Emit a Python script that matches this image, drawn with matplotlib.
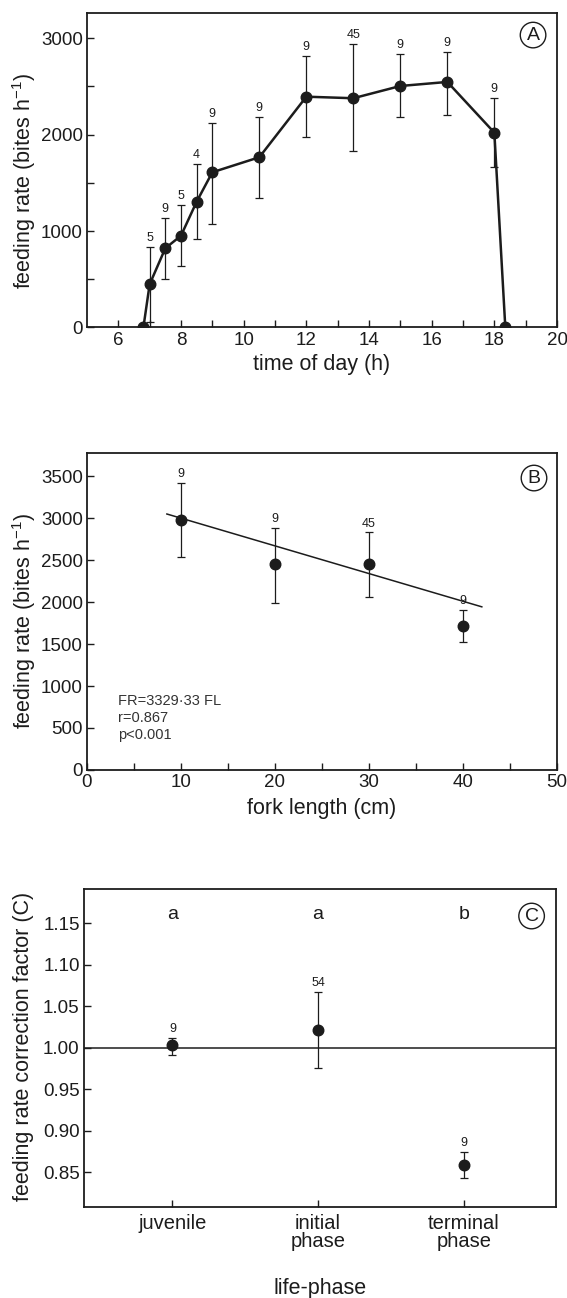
import numpy as np
import matplotlib
matplotlib.use("Agg")
import matplotlib.pyplot as plt

plt.rcParams["font.family"] = ["Liberation Sans", "DejaVu Sans"]
plt.rcParams["mathtext.default"] = "regular"

INK = "#1c1c1c"

# -------------------------------
# Panel A data: feeding rate vs time of day
# -------------------------------
time_h = [6.8, 7.0, 7.5, 8.0, 8.5, 9.0, 10.5, 12.0, 13.5, 15.0, 16.5, 18.0, 18.35]
rate_a = [0, 448, 822, 952, 1305, 1610, 1766, 2394, 2378, 2505, 2547, 2021, 0]
rate_a_hi = [0, 838, 1139, 1271, 1693, 2124, 2181, 2820, 2938, 2837, 2861, 2378, 0]
rate_a_lo = [0, 57, 503, 638, 918, 1071, 1340, 1973, 1831, 2180, 2204, 1668, 0]
n_a = ["", "5", "9", "5", "4", "9", "9", "9", "45", "9", "9", "9", ""]

# -------------------------------
# Panel B data: feeding rate vs fork length
# -------------------------------
fork_cm = [10, 20, 30, 40]
rate_b = [2976, 2449, 2452, 1714]
rate_b_hi = [3420, 2885, 2830, 1905]
rate_b_lo = [2532, 1985, 2056, 1525]
n_b = ["9", "9", "45", "9"]
fit_intercept = 3329
fit_slope = -33
fit_range = [8.5, 42]
stats_b = ["FR=3329·33 FL", "r=0.867", "p<0.001"]

# -------------------------------
# Panel C data: correction factor by life phase
# -------------------------------
phases = ["juvenile", "initial\nphase", "terminal\nphase"]
corr_c = [1.0028, 1.0213, 0.858]
corr_c_hi = [1.012, 1.0667, 0.874]
corr_c_lo = [0.991, 0.9752, 0.8428]
n_c = ["9", "54", "9"]
groups_c = ["a", "a", "b"]


def style_axes(ax):
    for s in ax.spines.values():
        s.set_linewidth(1.3)
        s.set_color(INK)
    ax.tick_params(which="both", direction="in", length=5, width=1.0,
                   colors=INK, labelsize=13.5, pad=3)


def panel_tag(ax, letter, x, y):
    ax.text(x, y, letter, transform=ax.transAxes, ha="center", va="center",
            fontsize=14, color=INK,
            bbox=dict(boxstyle="circle,pad=0.22", fc="white", ec=INK, lw=1.0))


def errbars(ax, x, y, hi, lo, labels, ms=7.6):
    y = np.array(y)
    yerr = [y - np.array(lo), np.array(hi) - y]
    ax.errorbar(x, y, yerr=yerr, fmt="none", ecolor=INK, elinewidth=0.9,
                capsize=2.9, capthick=0.9, zorder=2)
    for xi, top, lab in zip(x, hi, labels):
        if lab:
            ax.annotate(lab, (xi, top), xytext=(0, 2), textcoords="offset points",
                        ha="center", va="bottom", fontsize=9, color=INK)


fig = plt.figure(figsize=(5.67, 12.98), dpi=100)

# -------------------------------
# Panel A
# -------------------------------
axA = fig.add_axes([0.1534, 0.7477, 0.829, 0.2425])
errbars(axA, time_h, rate_a, rate_a_hi, rate_a_lo, n_a)
axA.plot(time_h, rate_a, "-o", color=INK, lw=1.8, ms=7.6, zorder=3)
axA.set_xlim(5, 20)
axA.set_ylim(0, 3265)
axA.set_xticks(np.arange(6, 21, 2))
axA.set_xticks(np.arange(7, 20, 2), minor=True)
axA.set_yticks([0, 1000, 2000, 3000])
axA.set_yticks([500, 1500, 2500], minor=True)
style_axes(axA)
axA.set_xlabel("time of day (h)", fontsize=15.5, color=INK, va="center")
axA.xaxis.set_label_coords(0.5, -0.118)
axA.set_ylabel("feeding rate (bites h$^{-1}$)", fontsize=15.5, color=INK, va="center")
axA.yaxis.set_label_coords(-0.134, 0.465)
panel_tag(axA, "A", 0.949, 0.929)

# -------------------------------
# Panel B
# -------------------------------
axB = fig.add_axes([0.1534, 0.4068, 0.829, 0.2442])
errbars(axB, fork_cm, rate_b, rate_b_hi, rate_b_lo, n_b)
axB.plot(fork_cm, rate_b, "o", color=INK, ms=7.6, zorder=3)
fx = np.array(fit_range)
axB.plot(fx, fit_intercept + fit_slope * fx, "-", color=INK, lw=1.1, zorder=2)
axB.set_xlim(0, 50)
axB.set_ylim(0, 3775)
axB.set_xticks(np.arange(0, 51, 10))
axB.set_xticks(np.arange(5, 50, 10), minor=True)
axB.set_yticks(np.arange(0, 3501, 500))
style_axes(axB)
for i, line in enumerate(stats_b):
    axB.text(3.3, 821 - 202 * i, line, ha="left", va="center",
             fontsize=10.5, color="#333333")
axB.set_xlabel("fork length (cm)", fontsize=15.5, color=INK, va="center")
axB.xaxis.set_label_coords(0.5, -0.12)
axB.set_ylabel("feeding rate (bites h$^{-1}$)", fontsize=15.5, color=INK, va="center")
axB.yaxis.set_label_coords(-0.134, 0.47)
panel_tag(axB, "B", 0.951, 0.921)

# -------------------------------
# Panel C
# -------------------------------
axC = fig.add_axes([0.148, 0.0701, 0.832, 0.245])
xc = np.arange(1, len(phases) + 1)
axC.axhline(1.0, color=INK, lw=1.1, zorder=1)
errbars(axC, xc, corr_c, corr_c_hi, corr_c_lo, n_c)
axC.plot(xc, corr_c, "o", color=INK, ms=7.6, zorder=3)
for xi, g in zip(xc, groups_c):
    axC.text(xi, 1.16, g, ha="center", va="center", fontsize=14, color=INK)
axC.set_xlim(0.393, 3.63)
axC.set_ylim(0.808, 1.191)
axC.set_xticks(xc)
axC.set_xticklabels(phases, linespacing=0.95)
axC.set_yticks([0.85, 0.90, 0.95, 1.00, 1.05, 1.10, 1.15])
axC.set_yticklabels(["%.2f" % v for v in [0.85, 0.90, 0.95, 1.00, 1.05, 1.10, 1.15]])
style_axes(axC)
axC.tick_params(axis="x", labelsize=14.5, pad=5)
axC.set_xlabel("life-phase", fontsize=15.5, color=INK, va="center")
axC.xaxis.set_label_coords(0.5, -0.255)
axC.set_ylabel("feeding rate correction factor (C)", fontsize=15.5, color=INK, va="center")
axC.yaxis.set_label_coords(-0.128, 0.505)
panel_tag(axC, "C", 0.949, 0.915)

fig.savefig("out.png", dpi=100, facecolor="white")
